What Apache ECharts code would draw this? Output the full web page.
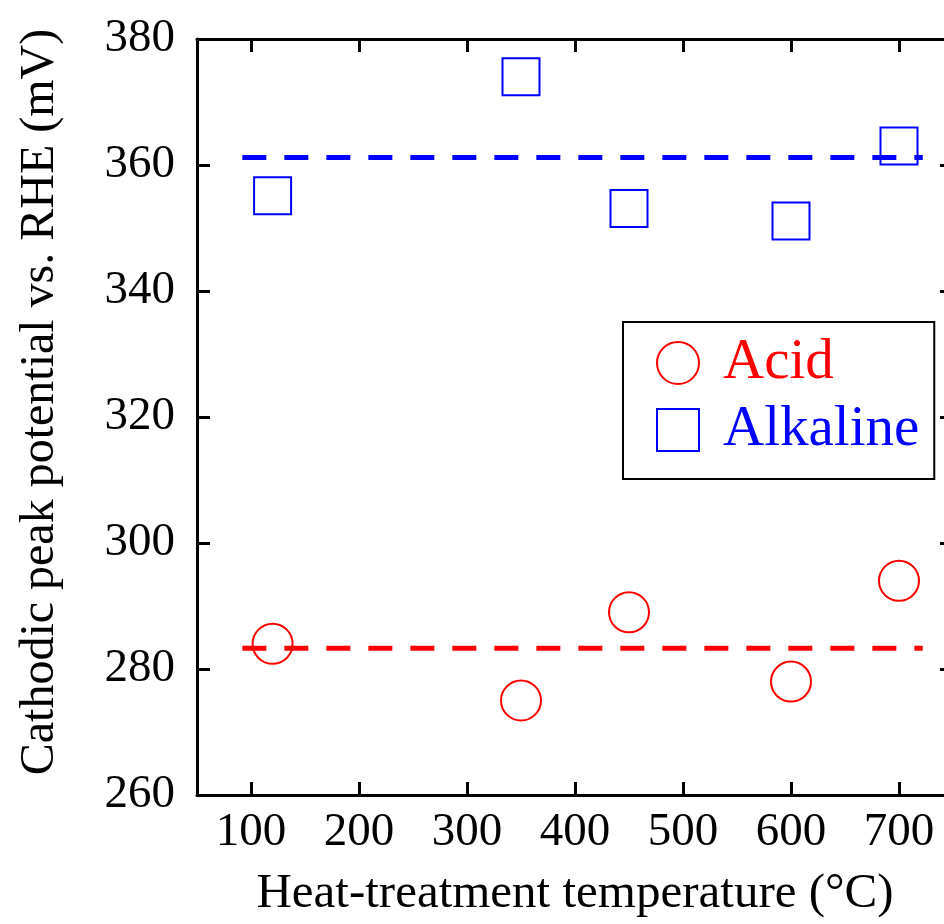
<!DOCTYPE html>
<html lang="en">
<head>
    <meta charset="UTF-8">
    <title>Cathodic peak potential</title>
    <style>
        * {
            padding: 0;
            margin: 0;
        }

        .EC {
            width: 944px;
            height: 924px;
            background: #fff;
        }
    </style>
    <script src="https://cdn.jsdelivr.net/npm/echarts@6.0.0/dist/echarts.min.js"></script>
</head>
<body>
<div class="EC"></div>
<script>
    // data
    const temps = [120, 350, 450, 600, 700]
    const acid = [284, 275, 289, 278, 294]
    const alkaline = [355.1, 374, 353.1, 351.1, 363]
    // dashed average lines
    const acidMean = 283.3
    const alkMean = 361.2
    const meanSpan = [92, 722]
    const xTicks = [100, 200, 300, 400, 500, 600, 700]

    const font = '"Times New Roman", "Liberation Serif", serif'

    window.onload = () => {
        let EC = echarts.init(document.querySelector('.EC'))

        let pairs = ys => temps.map((t, i) => [t, ys[i]])
        let meanLine = v => meanSpan.map(x => [x, v])

        let xBase = {
            type: 'value',
            min: 50,
            max: 750,
            splitLine: {show: false},
            axisLine: {lineStyle: {color: '#000', width: 3}},
            axisTick: {inside: true, length: 13, lineStyle: {color: '#000', width: 3}, customValues: xTicks}
        }
        let yBase = {
            type: 'value',
            min: 260,
            max: 380,
            interval: 20,
            splitLine: {show: false},
            axisLine: {lineStyle: {color: '#000', width: 3}},
            axisTick: {inside: true, length: 13, lineStyle: {color: '#000', width: 3}}
        }

        let option = {
            backgroundColor: '#fff',
            animation: false,
            grid: {left: 197, top: 39, right: -9, bottom: 129, outerBoundsMode: 'none', containLabel: false},
            xAxis: [
                Object.assign({}, xBase, {
                    position: 'bottom',
                    name: 'Heat-treatment temperature (°C)',
                    nameLocation: 'middle',
                    nameGap: 75,
                    nameTextStyle: {fontFamily: font, fontSize: 49, color: '#000'},
                    axisLabel: {
                        fontFamily: font, fontSize: 47, color: '#000', margin: 14,
                        customValues: xTicks
                    }
                }),
                Object.assign({}, xBase, {position: 'top', axisLabel: {show: false}})
            ],
            yAxis: [
                Object.assign({}, yBase, {
                    position: 'left',
                    name: 'Cathodic peak potential vs. RHE (mV)',
                    nameLocation: 'middle',
                    nameGap: 133,
                    nameTextStyle: {fontFamily: font, fontSize: 48, color: '#000', padding: [0, 0, 0, 30]},
                    axisLabel: {fontFamily: font, fontSize: 47, color: '#000', margin: 22}
                }),
                Object.assign({}, yBase, {position: 'right', axisLabel: {show: false}})
            ],
            legend: {
                orient: 'vertical',
                left: 623,
                top: 322,
                padding: [11, 15, 19, 33],
                itemGap: 7,
                itemWidth: 42,
                itemHeight: 42,
                borderColor: '#000',
                borderWidth: 2,
                borderRadius: 0,
                backgroundColor: '#fff',
                textStyle: {fontFamily: font, fontSize: 57, lineHeight: 60, padding: [0, 0, 0, 19]},
                data: [
                    {name: 'Acid', textStyle: {color: '#ff0000'}},
                    {name: 'Alkaline', textStyle: {color: '#0000ff'}}
                ]
            },
            series: [
                {
                    name: 'Acid mean',
                    type: 'line',
                    data: meanLine(acidMean),
                    symbol: 'none',
                    silent: true,
                    lineStyle: {color: '#ff0000', width: 5, type: [24, 18]}
                },
                {
                    name: 'Alkaline mean',
                    type: 'line',
                    data: meanLine(alkMean),
                    symbol: 'none',
                    silent: true,
                    lineStyle: {color: '#0000ff', width: 5, type: [24, 18]}
                },
                {
                    name: 'Acid',
                    type: 'scatter',
                    data: pairs(acid),
                    symbol: 'emptyCircle',
                    symbolSize: 40,
                    itemStyle: {color: '#ff0000', borderWidth: 2.4, opacity: 1}
                },
                {
                    name: 'Alkaline',
                    type: 'scatter',
                    data: pairs(alkaline),
                    symbol: 'emptyRect',
                    symbolSize: 37,
                    itemStyle: {color: '#0000ff', borderWidth: 3, opacity: 1}
                }
            ]
        }
        EC.setOption(option)
    }
</script>
</body>
</html>
